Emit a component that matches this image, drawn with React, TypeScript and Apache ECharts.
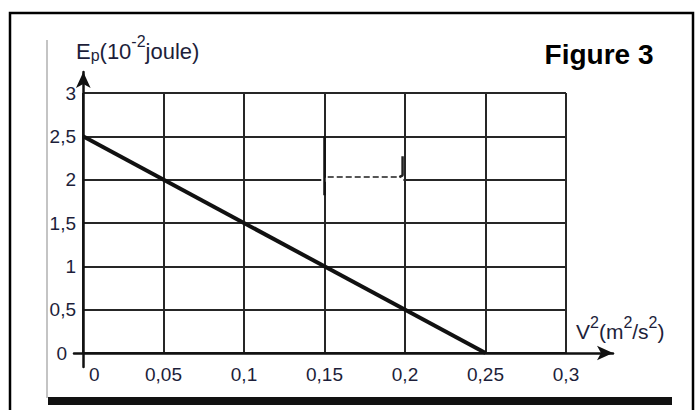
import React, { useEffect, useRef } from 'react';
import * as echarts from 'echarts';

// Data
const xMin = 0;
const xMax = 0.3;
const xStep = 0.05;
const yMin = 0;
const yMax = 3;
const yStep = 0.5;
const lineV2 = [0, 0.25];
const lineEp = [2.5, 0];

// scan artefacts visible between 0.15 and 0.2 around Ep = 2
const gapV2 = [0.148, 0.199];
const gapEp = [2, 2];
const dashV2 = [0.152, 0.197];
const dashEp = [2.03, 2.03];
const tickV2 = [0.1965, 0.1985, 0.1985];
const tickEp = [2.03, 2.05, 2.27];
const darkV2 = [0.15, 0.15];
const darkEp = [2.5, 1.82];

const fmt = (v: number) => String(Number(v.toFixed(4))).replace('.', ',');

const labelColor = '#1d1e3a';
const font = 'Liberation Sans, Arial, sans-serif';

export default function App() {
  const ref = useRef<HTMLDivElement>(null);
  useEffect(() => {
    if (!ref.current) return;
    const chart = echarts.init(ref.current, undefined, { renderer: 'svg' });
    const pairs = (xs: number[], ys: number[]) => xs.map((x, i) => [x, ys[i]]);
    const seg = (xs: number[], ys: number[], color: string, width: number, type: any = 'solid', z = 3) => ({
      type: 'line',
      xAxisIndex: 0,
      yAxisIndex: 0,
      data: pairs(xs, ys),
      symbol: 'none',
      lineStyle: { color, width, type },
      silent: true,
      z,
    });
    chart.setOption({
      animation: false,
      backgroundColor: '#ffffff',
      grid: [
        { left: 83, right: 132, top: 93, bottom: 57, containLabel: false },
        { left: 74, right: 85, top: 72, bottom: 43, containLabel: false },
      ],
      xAxis: [
        {
          type: 'value',
          gridIndex: 0,
          min: xMin,
          max: xMax,
          interval: xStep,
          axisLine: { show: false },
          axisTick: { show: false },
          splitLine: { show: true, lineStyle: { color: '#262626', width: 2 } },
          axisLabel: {
            formatter: (v: number) => (v === 0 ? '{z|0}' : fmt(v)),
            color: labelColor,
            fontFamily: font,
            fontSize: 19,
            margin: 12,
            alignMinLabel: 'left',
            rich: {
              z: { fontSize: 19, fontFamily: font, color: labelColor, padding: [0, 0, 0, 6] },
            },
          },
        },
        {
          type: 'value',
          gridIndex: 1,
          min: (74 - 83.3) / 1610,
          max: (613 - 83.3) / 1610,
          axisLine: {
            show: true,
            onZero: true,
            symbol: ['none', 'arrow'],
            symbolSize: [11, 16],
            lineStyle: { color: '#111', width: 2.5 },
          },
          axisTick: { show: false },
          axisLabel: { show: false },
          splitLine: { show: false },
        },
      ],
      yAxis: [
        {
          type: 'value',
          gridIndex: 0,
          min: yMin,
          max: yMax,
          interval: yStep,
          axisLine: { show: false },
          axisTick: { show: false },
          splitLine: { show: true, lineStyle: { color: '#262626', width: 2 } },
          axisLabel: {
            formatter: (v: number) => (v === 0 ? '{z|0}' : fmt(v)),
            color: labelColor,
            fontFamily: font,
            fontSize: 19,
            margin: 7,
            rich: {
              z: { fontSize: 19, fontFamily: font, color: labelColor, padding: [0, 9, 0, 0] },
            },
          },
        },
        {
          type: 'value',
          gridIndex: 1,
          min: -(367 - 353) / 86.67,
          max: (353 - 72) / 86.67,
          axisLine: {
            show: true,
            onZero: true,
            symbol: ['none', 'arrow'],
            symbolSize: [11, 16],
            lineStyle: { color: '#111', width: 2.5 },
          },
          axisTick: { show: false },
          axisLabel: { show: false },
          splitLine: { show: false },
        },
      ],
      series: [
        seg(gapV2, gapEp, '#ffffff', 4, 'solid', 2),
        seg(dashV2, dashEp, '#555', 2, [6, 3], 3),
        seg(tickV2, tickEp, '#222', 2.5, 'solid', 3),
        seg(darkV2, darkEp, '#111', 2.5, 'solid', 3),
        {
          type: 'line',
          xAxisIndex: 0,
          yAxisIndex: 0,
          data: pairs(lineV2, lineEp),
          symbol: 'none',
          lineStyle: { color: '#111', width: 4 },
          z: 5,
        },
      ],
      graphic: [
        {
          type: 'rect',
          shape: { x: 10, y: 13, width: 683, height: 420 },
          style: { fill: 'none', stroke: '#000', lineWidth: 2.5 },
          z: -10,
        },
        {
          type: 'rect',
          shape: { x: 46, y: 40, width: 2, height: 358 },
          style: { fill: '#c4c4c4' },
          z: -10,
        },
        {
          type: 'rect',
          shape: { x: 48, y: 397, width: 624, height: 8 },
          style: { fill: '#111' },
          z: -10,
        },
        {
          type: 'text',
          x: 76,
          y: 51,
          style: {
            text: '{m|E}{s|p}{m|(10}{u|-2}{m|joule)}',
            align: 'left',
            verticalAlign: 'middle',
            fill: labelColor,
            rich: {
              m: { fontSize: 22, lineHeight: 36, verticalAlign: 'middle', fontFamily: font, fill: labelColor },
              s: { fontSize: 16, lineHeight: 20, verticalAlign: 'middle', padding: [8, 0, 0, 0], fontFamily: font, fill: labelColor },
              u: { fontSize: 16, lineHeight: 16, verticalAlign: 'top', fontFamily: font, fill: labelColor },
            },
          },
        },
        {
          type: 'text',
          x: 576,
          y: 331,
          style: {
            text: '{m|V}{u|2}{m|(m}{u|2}{m|/s}{u|2}{m|)}',
            align: 'left',
            verticalAlign: 'middle',
            fill: labelColor,
            rich: {
              m: { fontSize: 21, lineHeight: 34, verticalAlign: 'middle', fontFamily: font, fill: labelColor },
              u: { fontSize: 16, lineHeight: 16, verticalAlign: 'top', fontFamily: font, fill: labelColor },
            },
          },
        },
        {
          type: 'text',
          x: 599,
          y: 54,
          style: {
            text: 'Figure 3',
            align: 'center',
            verticalAlign: 'middle',
            fontSize: 28,
            fontWeight: 'bold',
            fontFamily: font,
            fill: '#000',
          },
        },
      ],
    });
    return () => chart.dispose();
  }, []);
  return (
    <div
      ref={ref}
      style={{ position: 'fixed', left: 0, top: 0, width: 698, height: 410 }}
    />
  );
}
